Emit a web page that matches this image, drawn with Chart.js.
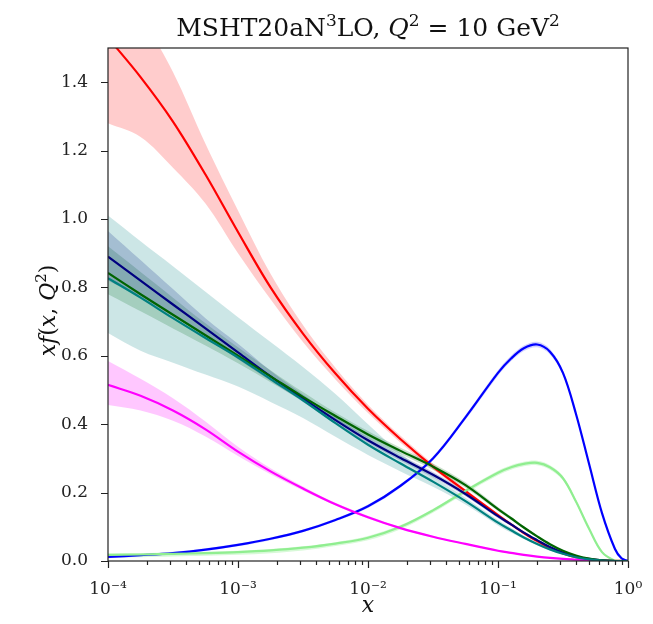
<!DOCTYPE html>
<html>
<head>
<meta charset="utf-8">
<script src="https://cdn.jsdelivr.net/npm/chart.js@4/dist/chart.umd.min.js"></script>
<style>
  html, body { margin: 0; padding: 0; background: #fff; }
  #wrap { width: 653px; height: 624px; }
</style>
</head>
<body>
<div id="wrap"><canvas id="pdfChart" width="653" height="624"></canvas></div>
<script>
// x grid (shared by all curves)
const xs = [1e-4, 1.78e-4, 3.16e-4, 5.62e-4, 1e-3, 1.78e-3, 3.16e-3, 5.62e-3,
    0.01, 0.0178, 0.0316, 0.0562, 0.1, 0.126, 0.158, 0.2, 0.251, 0.316,
    0.398, 0.501, 0.631, 0.794, 0.891, 1.0];

// gluon (red)
const gluon   = [1.53, 1.415, 1.285, 1.13, 0.962, 0.80, 0.665, 0.548, 0.445, 0.356, 0.276, 0.204, 0.134, 0.107, 0.082, 0.058, 0.038, 0.022, 0.011, 0.005, 0.002, 0.0005, 0.0002, 0];
const gluonLo = [1.28, 1.24, 1.15, 1.045, 0.90, 0.765, 0.64, 0.531, 0.433, 0.346, 0.268, 0.198, 0.129, 0.103, 0.079, 0.055, 0.036, 0.021, 0.010, 0.004, 0.001, 0, 0, 0];
const gluonHi = [1.78, 1.60, 1.43, 1.22, 1.025, 0.84, 0.69, 0.565, 0.457, 0.366, 0.284, 0.210, 0.139, 0.111, 0.085, 0.061, 0.040, 0.023, 0.012, 0.006, 0.003, 0.001, 0.0004, 0];

// u valence (blue)
const uv   = [0.012, 0.017, 0.023, 0.033, 0.047, 0.065, 0.088, 0.12, 0.16, 0.22, 0.30, 0.42, 0.55, 0.592, 0.622, 0.633, 0.612, 0.55, 0.43, 0.285, 0.14, 0.035, 0.008, 0];
const uvLo = [0.008, 0.013, 0.019, 0.029, 0.043, 0.061, 0.084, 0.116, 0.155, 0.215, 0.294, 0.413, 0.542, 0.584, 0.614, 0.625, 0.604, 0.543, 0.424, 0.280, 0.136, 0.032, 0.006, 0];
const uvHi = [0.016, 0.021, 0.027, 0.037, 0.051, 0.069, 0.092, 0.124, 0.165, 0.225, 0.306, 0.427, 0.558, 0.600, 0.630, 0.641, 0.620, 0.557, 0.436, 0.290, 0.144, 0.038, 0.010, 0];

// d valence (light green)
const dv   = [0.018, 0.019, 0.021, 0.023, 0.026, 0.031, 0.039, 0.051, 0.068, 0.10, 0.148, 0.205, 0.258, 0.274, 0.284, 0.287, 0.274, 0.242, 0.174, 0.095, 0.026, 0.001, 0, 0];
const dvLo = [0.010, 0.011, 0.013, 0.015, 0.018, 0.023, 0.031, 0.044, 0.061, 0.093, 0.141, 0.198, 0.251, 0.267, 0.277, 0.280, 0.267, 0.236, 0.169, 0.091, 0.023, 0, 0, 0];
const dvHi = [0.022, 0.023, 0.025, 0.027, 0.030, 0.035, 0.043, 0.055, 0.073, 0.105, 0.153, 0.210, 0.264, 0.280, 0.290, 0.293, 0.280, 0.248, 0.179, 0.099, 0.029, 0.002, 0, 0];

// strange-like sea (magenta)
const sea1   = [0.515, 0.483, 0.44, 0.385, 0.32, 0.262, 0.212, 0.166, 0.128, 0.096, 0.071, 0.05, 0.03, 0.024, 0.018, 0.013, 0.009, 0.006, 0.004, 0.002, 0.001, 0, 0, 0];
const sea1Lo = [0.456, 0.44, 0.41, 0.364, 0.307, 0.254, 0.206, 0.162, 0.124, 0.093, 0.068, 0.048, 0.028, 0.022, 0.016, 0.012, 0.008, 0.005, 0.003, 0.001, 0, 0, 0, 0];
const sea1Hi = [0.585, 0.533, 0.476, 0.408, 0.334, 0.271, 0.218, 0.170, 0.132, 0.099, 0.074, 0.052, 0.032, 0.026, 0.020, 0.014, 0.010, 0.007, 0.005, 0.003, 0.002, 0.001, 0, 0];

// navy sea
const sea2   = [0.89, 0.82, 0.75, 0.68, 0.61, 0.54, 0.475, 0.412, 0.353, 0.301, 0.252, 0.196, 0.131, 0.107, 0.083, 0.061, 0.041, 0.025, 0.013, 0.006, 0.002, 0, 0, 0];
const sea2Lo = [0.82, 0.77, 0.715, 0.655, 0.59, 0.527, 0.465, 0.403, 0.345, 0.293, 0.244, 0.189, 0.125, 0.102, 0.079, 0.058, 0.039, 0.023, 0.012, 0.005, 0.001, 0, 0, 0];
const sea2Hi = [0.965, 0.88, 0.795, 0.71, 0.635, 0.556, 0.487, 0.421, 0.361, 0.309, 0.260, 0.203, 0.137, 0.112, 0.087, 0.064, 0.043, 0.027, 0.014, 0.007, 0.003, 0.001, 0, 0];

// dark green sea
const sea3   = [0.842, 0.78, 0.72, 0.66, 0.60, 0.54, 0.48, 0.424, 0.37, 0.322, 0.276, 0.222, 0.152, 0.125, 0.098, 0.072, 0.049, 0.03, 0.016, 0.007, 0.002, 0, 0, 0];
const sea3Lo = [0.78, 0.73, 0.68, 0.63, 0.578, 0.523, 0.468, 0.414, 0.36, 0.313, 0.267, 0.214, 0.146, 0.120, 0.094, 0.069, 0.047, 0.028, 0.015, 0.006, 0.001, 0, 0, 0];
const sea3Hi = [0.92, 0.845, 0.77, 0.695, 0.625, 0.558, 0.494, 0.434, 0.38, 0.331, 0.285, 0.230, 0.158, 0.130, 0.102, 0.075, 0.051, 0.032, 0.017, 0.008, 0.003, 0.001, 0, 0];

// teal sea (wide band)
const sea4   = [0.827, 0.77, 0.71, 0.652, 0.595, 0.532, 0.47, 0.403, 0.34, 0.285, 0.232, 0.175, 0.112, 0.09, 0.069, 0.05, 0.034, 0.021, 0.011, 0.005, 0.001, 0, 0, 0];
const sea4Lo = [0.667, 0.615, 0.58, 0.545, 0.51, 0.465, 0.418, 0.363, 0.31, 0.262, 0.217, 0.165, 0.104, 0.083, 0.064, 0.046, 0.031, 0.019, 0.010, 0.004, 0.001, 0, 0, 0];
const sea4Hi = [1.01, 0.935, 0.862, 0.787, 0.713, 0.64, 0.567, 0.488, 0.40, 0.315, 0.247, 0.185, 0.120, 0.097, 0.074, 0.054, 0.037, 0.023, 0.012, 0.006, 0.002, 0.001, 0, 0];

// axis ticks
const yTicks = [0.0, 0.2, 0.4, 0.6, 0.8, 1.0, 1.2, 1.4];
const xMajor = [1e-4, 1e-3, 1e-2, 1e-1, 1];
const xLabels = ['10\u207B\u2074', '10\u207B\u00B3', '10\u207B\u00B2', '10\u207B\u00B9', '10\u2070'];

const pts = arr => xs.map((x, i) => ({ x: x, y: arr[i] }));

function band(lo, hi, fillColor) {
    return [
        { data: pts(hi), borderWidth: 0, pointRadius: 0, fill: false, order: 5, tension: 0.35 },
        { data: pts(lo), borderWidth: 0, pointRadius: 0, fill: '-1', backgroundColor: fillColor, order: 5, tension: 0.35 }
    ];
}

function line(arr, color) {
    return { data: pts(arr), borderColor: color, borderWidth: 2.2, pointRadius: 0, fill: false, order: 1, tension: 0.35 };
}

const datasets = [].concat(
    band(sea4Lo, sea4Hi, 'rgba(0,128,128,0.2)'),
    band(sea2Lo, sea2Hi, 'rgba(0,0,128,0.2)'),
    band(sea3Lo, sea3Hi, 'rgba(0,100,0,0.2)'),
    band(sea1Lo, sea1Hi, 'rgba(255,0,255,0.22)'),
    band(gluonLo, gluonHi, 'rgba(255,0,0,0.2)'),
    band(dvLo, dvHi, 'rgba(144,238,144,0.35)'),
    band(uvLo, uvHi, 'rgba(0,0,255,0.18)'),
    [
        line(sea4, '#008080'),
        line(sea3, '#006400'),
        line(sea2, '#000080'),
        line(sea1, '#ff00ff'),
        line(dv, '#90ee90'),
        line(uv, '#0000ff'),
        line(gluon, '#ff0000')
    ]
);

const frame = {
    id: 'frame',
    afterDraw(chart) {
        const ctx = chart.ctx;
        const a = chart.chartArea;
        const sx = chart.scales.x, sy = chart.scales.y;
        ctx.save();
        ctx.strokeStyle = '#222';
        ctx.lineWidth = 1.2;
        ctx.strokeRect(a.left, a.top, a.right - a.left, a.bottom - a.top);
        ctx.beginPath();
        yTicks.forEach(v => {
            const y = Math.round(sy.getPixelForValue(v)) + 0.5;
            ctx.moveTo(a.left - 7, y);
            ctx.lineTo(a.left, y);
        });
        for (let e = -4; e <= 0; e++) {
            for (let m = 1; m <= 9; m++) {
                const v = m * Math.pow(10, e);
                if (v > 1) break;
                const x = Math.round(sx.getPixelForValue(v)) + 0.5;
                ctx.moveTo(x, a.bottom);
                ctx.lineTo(x, a.bottom + (m === 1 ? 7 : 4));
            }
        }
        ctx.stroke();

        // title with superscripts
        const parts = [
            ['MSHT20aN', '25px "DejaVu Serif"', 0],
            ['3', '17px "DejaVu Serif"', -10],
            ['LO, ', '25px "DejaVu Serif"', 0],
            ['Q', 'italic 25px "DejaVu Serif"', 0],
            ['2', '17px "DejaVu Serif"', -10],
            [' = 10 GeV', '25px "DejaVu Serif"', 0],
            ['2', '17px "DejaVu Serif"', -10]
        ];
        let w = 0;
        parts.forEach(p => { ctx.font = p[1]; w += ctx.measureText(p[0]).width; });
        let x0 = (a.left + a.right) / 2 - w / 2;
        ctx.fillStyle = '#111';
        ctx.textBaseline = 'alphabetic';
        parts.forEach(p => {
            ctx.font = p[1];
            ctx.fillText(p[0], x0, 36 + p[2]);
            x0 += ctx.measureText(p[0]).width;
        });

        // x label
        ctx.font = 'italic 22px "DejaVu Serif"';
        ctx.textAlign = 'center';
        ctx.fillText('x', (a.left + a.right) / 2, 612);

        // y label
        ctx.translate(47, (a.top + a.bottom) / 2 + 6);
        ctx.rotate(-Math.PI / 2);
        const yl = [
            ['xf', 'italic 22px "DejaVu Serif"', 0],
            ['(', '22px "DejaVu Serif"', 0],
            ['x', 'italic 22px "DejaVu Serif"', 0],
            [', ', '22px "DejaVu Serif"', 0],
            ['Q', 'italic 22px "DejaVu Serif"', 0],
            ['2', '15px "DejaVu Serif"', -9],
            [')', '22px "DejaVu Serif"', 0]
        ];
        ctx.textAlign = 'left';
        let yw = 0;
        yl.forEach(p => { ctx.font = p[1]; yw += ctx.measureText(p[0]).width; });
        let p0 = -yw / 2;
        yl.forEach(p => {
            ctx.font = p[1];
            ctx.fillText(p[0], p0, 8 + p[2]);
            p0 += ctx.measureText(p[0]).width;
        });
        ctx.restore();
    }
};

new Chart(document.getElementById('pdfChart'), {
    type: 'line',
    data: { datasets: datasets },
    options: {
        responsive: false,
        animation: false,
        layout: { padding: { top: 48, right: 25, left: 0, bottom: 0 } },
        plugins: { legend: { display: false }, tooltip: { enabled: false }, title: { display: false } },
        scales: {
            x: {
                type: 'logarithmic',
                min: 1e-4,
                max: 1,
                grid: { display: false },
                border: { display: false },
                afterFit: s => { s.height = 63; },
                ticks: {
                    autoSkip: false,
                    maxRotation: 0,
                    padding: 10,
                    color: '#222',
                    font: { family: 'DejaVu Serif', size: 17 },
                    callback: v => {
                        const i = xMajor.findIndex(m => Math.abs(v - m) / m < 1e-6);
                        return i >= 0 ? xLabels[i] : '';
                    }
                }
            },
            y: {
                min: 0,
                max: 1.5,
                grid: { display: false },
                border: { display: false },
                afterFit: s => { s.width = 108; },
                ticks: {
                    stepSize: 0.2,
                    includeBounds: false,
                    padding: 12,
                    color: '#222',
                    font: { family: 'DejaVu Serif', size: 17 },
                    callback: v => v.toFixed(1)
                }
            }
        }
    },
    plugins: [frame]
});
</script>
</body>
</html>
